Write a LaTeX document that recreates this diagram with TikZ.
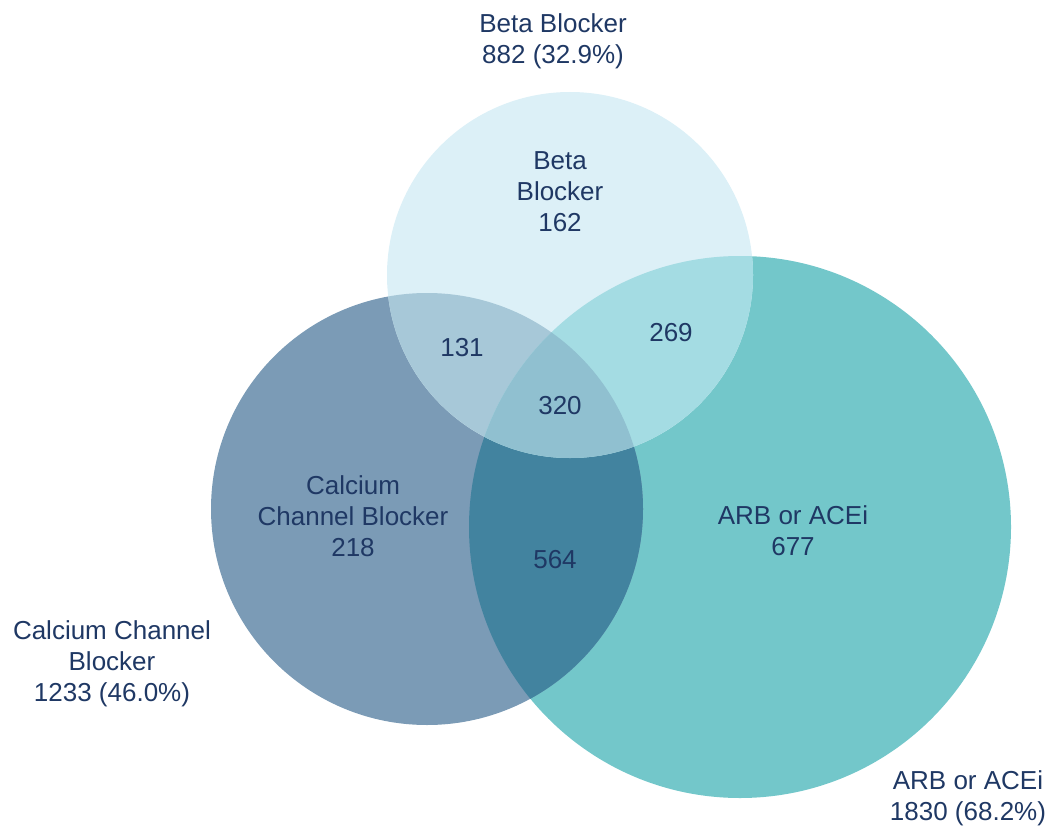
\documentclass[tikz,border=0pt]{standalone}
\usepackage{fontspec}
\setmainfont{Liberation Sans}
\definecolor{labelblue}{HTML}{1F3864}
\definecolor{bbcol}{HTML}{DCF0F7}
\definecolor{ccbcol}{HTML}{7B9BB6}
\definecolor{arbcol}{HTML}{73C7CA}
\definecolor{bbccb}{HTML}{A7C8D8}
\definecolor{bbarb}{HTML}{A4DCE3}
\definecolor{ccbarb}{HTML}{42839F}
\definecolor{allthree}{HTML}{90C0D0}

\begin{document}
\begin{tikzpicture}[x=1pt,y=-1pt,
    every node/.style={text=labelblue, font=\fontsize{26}{31}\selectfont,
      align=center, inner sep=0pt}]
  \useasboundingbox (0,0) rectangle (1054,829);
  % set centres
  \coordinate (bb) at (570,275);
  \coordinate (ccb) at (427,509);
  \coordinate (arb) at (740,527);
  % single sets
  \fill [arbcol] (arb) circle (271);
  \fill [ccbcol] (ccb) circle (216);
  \fill [bbcol] (bb) circle (183);
  % pairwise overlaps
  \begin{scope}
    \clip (ccb) circle (216);
    \fill [ccbarb] (arb) circle (271);
  \end{scope}
  \begin{scope}
    \clip (bb) circle (183);
    \fill [bbccb] (ccb) circle (216);
  \end{scope}
  \begin{scope}
    \clip (bb) circle (183);
    \fill [bbarb] (arb) circle (271);
  \end{scope}
  % all three
  \begin{scope}
    \clip (bb) circle (183);
    \clip (ccb) circle (216);
    \fill [allthree] (arb) circle (271);
  \end{scope}
  % region counts
  \node (bbonly) at (560,192) {Beta\\Blocker\\162};
  \node (ccbonly) at (353,516) {Calcium\\Channel Blocker\\218};
  \node (arbonly) at (793,531) {ARB or ACEi\\677};
  \node (bbccbn) at (462,348) {131};
  \node (bbarbn) at (671,333) {269};
  \node (alln) at (560,406) {320};
  \node (ccbarbn) at (555,560) {564};
  % set labels
  \node (bblabel) at (553,41) {Beta Blocker\\882 (32.9\%)};
  \node (ccblabel) at (112,664) {Calcium Channel\\Blocker\\1233 (46.0\%)};
  \node (arblabel) at (968,798) {ARB or ACEi\\1830 (68.2\%)};
\end{tikzpicture}
\end{document}
